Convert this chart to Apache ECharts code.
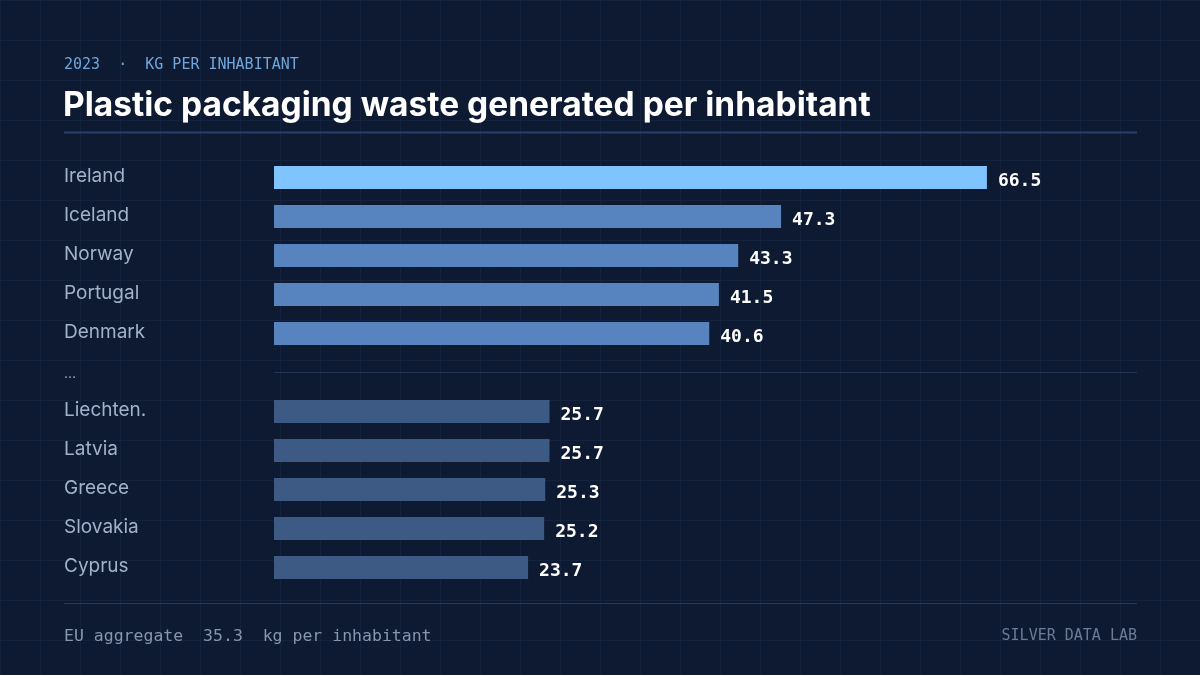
<!DOCTYPE html>
<html>

<head>
	<meta charset="utf-8" />
	<title>Plastic packaging waste</title>
	<script src="https://cdn.jsdelivr.net/npm/echarts@6/dist/echarts.min.js"></script>
	<style>
		html, body { margin: 0; padding: 0; }
		#main {
			width: 1200px;
			height: 675px;
			background-color: #0d1a31;
			background-image:
				linear-gradient(to right, #14233d 1px, transparent 1px),
				linear-gradient(to bottom, #14233d 1px, transparent 1px);
			background-size: 40px 40px;
		}
	</style>
</head>

<body>
	<div id="main"></div>
	<script type="text/javascript">
		// countries, top five then bottom five, with a gap row in between
		var countries = ['Ireland', 'Iceland', 'Norway', 'Portugal', 'Denmark', '…', 'Liechten.', 'Latvia', 'Greece', 'Slovakia', 'Cyprus'];
		var kgPerHead = [66.5, 47.3, 43.3, 41.5, 40.6, null, 25.7, 25.7, 25.3, 25.2, 23.7];
		var euAggregate = 35.3;
		var axisMax = 80.5;

		var myChart = echarts.init(document.getElementById('main'));

		// bar colour by rank: leader, rest of top group, bottom group
		function barColor(idx) {
			if (idx == 0) return '#7fc4ff';
			if (idx < 5) return '#5784be';
			return '#3c5a84';
		}

		var option = {
			backgroundColor: 'transparent',
			animation: false,
			title: [{
				text: '2023  ·  KG PER INHABITANT',
				left: 64,
				top: 58,
				padding: 0,
				textStyle: { fontFamily: 'DejaVu Sans Mono', fontSize: 15, fontWeight: 'normal', color: '#6fa6dc' }
			}, {
				text: 'Plastic packaging waste generated per inhabitant',
				left: 63,
				top: 89,
				padding: 0,
				textStyle: { fontFamily: 'Inter', fontSize: 33.5, fontWeight: 'bold', color: '#ffffff' }
			}, {
				text: 'EU aggregate  ' + euAggregate + '  kg per inhabitant',
				left: 64,
				top: 628,
				padding: 0,
				textStyle: { fontFamily: 'DejaVu Sans Mono', fontSize: 16.5, fontWeight: 'normal', color: '#8796b0' }
			}, {
				text: 'SILVER DATA LAB',
				right: 63,
				top: 629,
				padding: 0,
				textStyle: { fontFamily: 'DejaVu Sans Mono', fontSize: 15, fontWeight: 'normal', color: '#6c7c98' }
			}],
			graphic: [{
				type: 'line',
				shape: { x1: 64, y1: 132.5, x2: 1137, y2: 132.5 },
				style: { stroke: '#2b4068', lineWidth: 2 }
			}, {
				type: 'line',
				shape: { x1: 64, y1: 603.5, x2: 1137, y2: 603.5 },
				style: { stroke: '#27395b', lineWidth: 1 }
			}],
			grid: {
				left: 274,
				right: 63,
				top: 158,
				height: 429
			},
			xAxis: {
				type: 'value',
				min: 0,
				max: axisMax,
				show: false
			},
			yAxis: {
				type: 'category',
				data: countries,
				inverse: true,
				axisLine: { show: false },
				axisTick: { show: false },
				splitLine: { show: false },
				axisLabel: {
					align: 'left',
					margin: 210,
					fontFamily: 'Inter',
					fontSize: 19,
					color: '#a3b2c9',
					padding: [0, 0, 3, 0],
					formatter: function (v) { return v == '…' ? '{dots|…}' : v; },
					rich: {
						dots: { fontFamily: 'Inter', fontSize: 14, color: '#a3b2c9', padding: [6, 0, 0, 0] }
					}
				}
			},
			series: [{
				type: 'bar',
				data: kgPerHead,
				barWidth: 23,
				itemStyle: {
					color: function (p) { return barColor(p.dataIndex); }
				},
				label: {
					show: true,
					position: 'right',
					distance: 11,
					offset: [0, 4],
					fontFamily: 'DejaVu Sans Mono',
					fontWeight: 'bold',
					fontSize: 18,
					color: '#ffffff'
				},
				markLine: {
					silent: true,
					symbol: 'none',
					label: { show: false },
					lineStyle: { color: '#23365a', type: 'solid', width: 1 },
					data: [{ yAxis: '…' }]
				}
			}]
		};

		myChart.setOption(option);
	</script>
</body>

</html>
